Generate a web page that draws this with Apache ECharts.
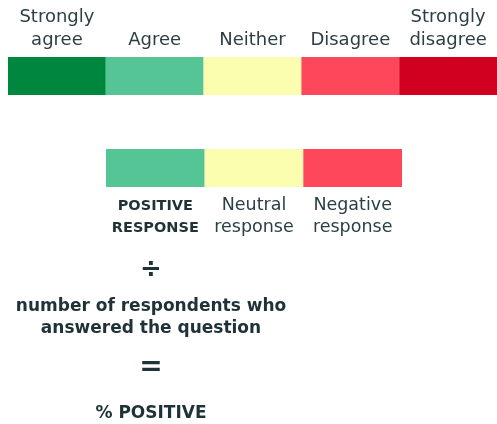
<!DOCTYPE html>
<html><head><meta charset="utf-8">
<script src="https://cdn.jsdelivr.net/npm/echarts@6/dist/echarts.min.js"></script>
<style>html,body{margin:0;padding:0;background:#fff}#c{width:497px;height:424px}</style>
</head><body><div id="c"></div>
<script>
const scaleCategories = ["Strongly\nagree", "Agree", "Neither", "Disagree", "Strongly\ndisagree"];
const scaleValues = [1, 1, 1, 1, 1];
const scaleColors = ["#00873E", "#55C595", "#FBFDAF", "#FF475C", "#D20020"];
const groupCategories = ["POSITIVE\nRESPONSE", "Neutral\nresponse", "Negative\nresponse"];
const groupValues = [1, 1, 1];
const groupColors = ["#55C595", "#FBFDAF", "#FF475C"];
const formulaTexts = ["÷", "number of respondents who\nanswered the question", "=", "% POSITIVE"];

const textColor = "#2B3F44";
const darkText = "#1F3237";
const chart = echarts.init(document.getElementById('c'), null, {renderer: 'canvas'});
const font = '"DejaVu Sans", sans-serif';

chart.setOption({
  animation: false,
  grid: [
    {left: 8, top: 57, width: 492, height: 38},
    {left: 106, top: 149, width: 296, height: 38}
  ],
  xAxis: [
    {gridIndex: 0, type: 'category', position: 'top', data: scaleCategories,
     axisLine: {show: false}, axisTick: {show: false},
     axisLabel: {interval: 0, color: textColor, fontFamily: font, fontSize: 18, lineHeight: 23, margin: 5}},
    {gridIndex: 1, type: 'category', position: 'bottom', data: groupCategories,
     axisLine: {show: false}, axisTick: {show: false},
     axisLabel: {interval: 0, color: textColor, fontFamily: font, fontSize: 17.5, lineHeight: 22, margin: 7,
       formatter: function (v, i) { return i === 0 ? '{b|' + v.replace('\n', '}\n{b|') + '}' : v; },
       rich: {b: {fontWeight: 'bold', fontSize: 14.5, fontFamily: font, color: darkText, lineHeight: 22, padding: [3, 0, 0, 0]}}}}
  ],
  yAxis: [
    {gridIndex: 0, type: 'value', min: 0, max: 1, show: false},
    {gridIndex: 1, type: 'value', min: 0, max: 1, show: false}
  ],
  series: [
    {type: 'bar', xAxisIndex: 0, yAxisIndex: 0, barCategoryGap: 0, silent: true,
     data: scaleValues.map((v, i) => ({value: v, itemStyle: {color: scaleColors[i]}}))},
    {type: 'bar', xAxisIndex: 1, yAxisIndex: 1, barCategoryGap: 0, silent: true,
     data: groupValues.map((v, i) => ({value: v, itemStyle: {color: groupColors[i]}}))}
  ],
  graphic: [
    {type: 'text', x: 151, y: 270, style: {text: formulaTexts[0], fill: darkText, font: 'bold 26px ' + font, textAlign: 'center', textVerticalAlign: 'middle'}},
    {type: 'text', x: 151, y: 318, style: {text: formulaTexts[1], fill: darkText, font: 'bold 17px ' + font, lineHeight: 22, textAlign: 'center', textVerticalAlign: 'middle'}},
    {type: 'text', x: 151, y: 368, style: {text: formulaTexts[2], fill: darkText, font: 'bold 28px ' + font, textAlign: 'center', textVerticalAlign: 'middle'}},
    {type: 'text', x: 151, y: 414, style: {text: formulaTexts[3], fill: darkText, font: 'bold 17px ' + font, textAlign: 'center', textVerticalAlign: 'middle'}}
  ]
});
</script></body></html>
